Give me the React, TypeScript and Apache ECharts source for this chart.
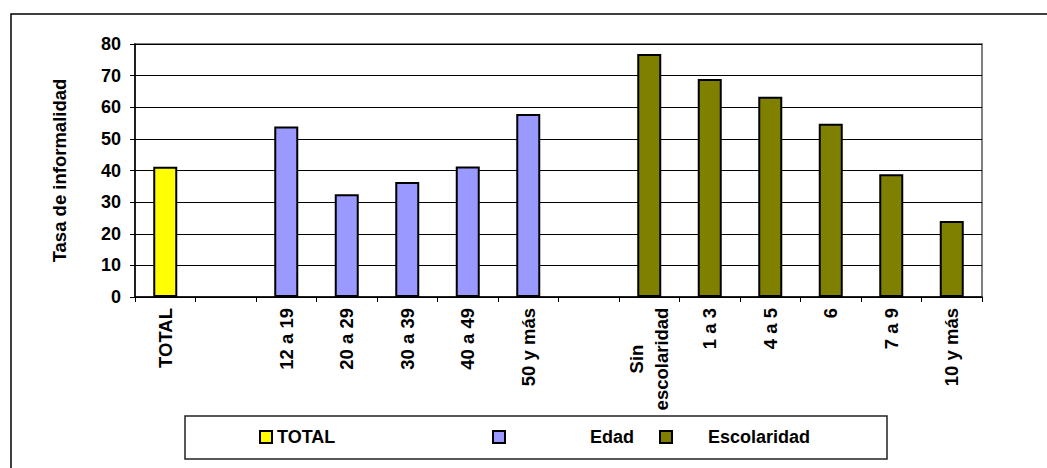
import React, { useEffect, useRef } from "react";
import * as echarts from "echarts";

const totalCats = ["TOTAL"];
const totalValues = [41.2];
const edadCats = ["12 a 19", "20 a 29", "30 a 39", "40 a 49", "50 y más"];
const edadValues = [53.9, 32.5, 36.4, 41.3, 57.9];
const escCats = ["Sin\nescolaridad", "1 a 3", "4 a 5", "6", "7 a 9", "10 y más"];
const escValues = [76.8, 68.9, 63.3, 54.8, 38.8, 24.0];
const yTicks = [0, 10, 20, 30, 40, 50, 60, 70, 80];
const seriesNames = ["TOTAL", "Edad", "Escolaridad"];

const FONT = "'Liberation Sans', Arial, sans-serif";

export default function App() {
  const ref = useRef<HTMLDivElement>(null);
  useEffect(() => {
    if (!ref.current) return;
    const chart = echarts.init(ref.current, null, { renderer: "svg" });
    const categories = [...totalCats, "", ...edadCats, "", ...escCats];
    const n = categories.length;
    const pad = (start: number, vals: number[]) => {
      const arr: (number | string)[] = new Array(n).fill("-");
      vals.forEach((v, i) => (arr[start + i] = v));
      return arr;
    };
    const totalData = pad(0, totalValues);
    const edadData = pad(totalCats.length + 1, edadValues);
    const escData = pad(totalCats.length + 1 + edadCats.length + 1, escValues);
    const colors = ["#FFFF00", "#9999FF", "#808000"];
    const datas = [totalData, edadData, escData];

    const legendBase = {
      orient: "horizontal",
      padding: 0,
      itemWidth: 12,
      itemHeight: 12,
      icon: "rect",
      top: 428,
      itemStyle: { borderColor: "#000", borderWidth: 2 },
      textStyle: { fontSize: 18, fontWeight: "bold", fontFamily: FONT, color: "#000" },
    };

    const labelText = { fontSize: 18.5, fontWeight: "bold", fontFamily: FONT, color: "#000" };

    const catData = categories.map((c) =>
      c.indexOf("\n") >= 0
        ? { value: c, textStyle: { align: "center", padding: [0, 102, 0, 0], lineHeight: 25 } }
        : c
    );

    chart.setOption({
      animation: false,
      backgroundColor: "#fff",
      grid: {
        left: 135,
        right: 65,
        top: 44,
        bottom: 171,
        show: true,
        borderColor: "#808080",
        borderWidth: 2,
      },
      graphic: [
        {
          type: "rect",
          shape: { x: 11, y: 14, width: 1200, height: 600 },
          style: { fill: "none", stroke: "#000", lineWidth: 1.5 },
          z: 0,
        },
        {
          type: "rect",
          shape: { x: 185, y: 416, width: 702, height: 43 },
          style: { fill: "none", stroke: "#222", lineWidth: 1.5 },
          z: 0,
        },
      ],
      legend: [
        { ...legendBase, left: 259, data: [seriesNames[0]] },
        { ...legendBase, left: 492, data: [seriesNames[1]], textStyle: { ...legendBase.textStyle, padding: [0, 0, 0, 80] } },
        { ...legendBase, left: 659, data: [seriesNames[2]], textStyle: { ...legendBase.textStyle, padding: [0, 0, 0, 31] } },
      ],
      xAxis: {
        type: "category",
        data: catData,
        boundaryGap: true,
        axisLine: { lineStyle: { color: "#000", width: 1.5 } },
        axisTick: { show: true, length: 5, lineStyle: { color: "#000" } },
        axisLabel: {
          interval: 0,
          rotate: 90,
          margin: 11,
          ...labelText,
        },
        splitLine: { show: false },
      },
      yAxis: {
        type: "value",
        min: yTicks[0],
        max: yTicks[yTicks.length - 1],
        interval: 10,
        name: "Tasa de informalidad",
        nameLocation: "middle",
        nameGap: 66,
        nameTextStyle: { fontSize: 18.5, fontWeight: "bold", fontFamily: FONT, color: "#000" },
        axisLine: { show: true, lineStyle: { color: "#000", width: 1.5 } },
        axisTick: { show: true, length: 5, lineStyle: { color: "#000" } },
        axisLabel: { margin: 14, fontSize: 18, fontWeight: "bold", fontFamily: FONT, color: "#000" },
        splitLine: { show: true, lineStyle: { color: "#000", width: 1 } },
      },
      series: seriesNames.map((name, i) => ({
        name,
        type: "bar",
        data: datas[i],
        barWidth: 24,
        barGap: "-100%",
        itemStyle: { color: colors[i], borderColor: "#000", borderWidth: 2 },
      })),
    });
    return () => chart.dispose();
  }, []);
  return (
    <div
      ref={ref}
      style={{ position: "fixed", left: 0, top: 0, width: 1047, height: 468, background: "#fff" }}
    />
  );
}
